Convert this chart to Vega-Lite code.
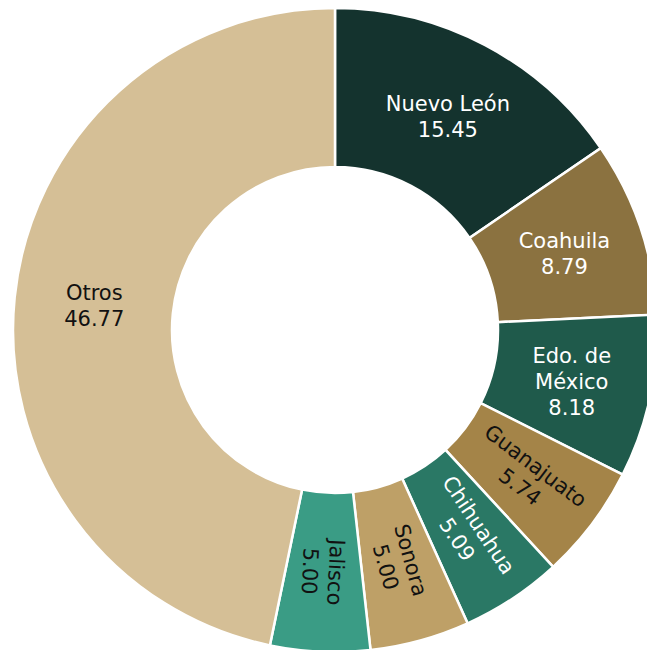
{
  "$schema": "https://vega.github.io/schema/vega-lite/v6.json",
  "width": 670,
  "height": 660,
  "padding": 0,
  "autosize": "none",
  "background": "white",
  "view": {"stroke": null},
  "data": {
    "values": [
      {"i": 0, "estado": "Nuevo León", "label": "Nuevo León", "valor": 15.45},
      {"i": 1, "estado": "Coahuila", "label": "Coahuila", "valor": 8.79},
      {"i": 2, "estado": "Edo. de México", "label": "Edo. de\nMéxico", "valor": 8.18},
      {"i": 3, "estado": "Guanajuato", "label": "Guanajuato", "valor": 5.74},
      {"i": 4, "estado": "Chihuahua", "label": "Chihuahua", "valor": 5.09},
      {"i": 5, "estado": "Sonora", "label": "Sonora", "valor": 5.00},
      {"i": 6, "estado": "Jalisco", "label": "Jalisco", "valor": 5.00},
      {"i": 7, "estado": "Otros", "label": "Otros", "valor": 46.77}
    ]
  },
  "transform": [
    {"joinaggregate": [{"op": "sum", "field": "valor", "as": "total"}]},
    {"window": [{"op": "sum", "field": "valor", "as": "acum"}], "sort": [{"field": "i", "order": "ascending"}], "frame": [null, 0]},
    {"calculate": "datum.acum - datum.valor / 2", "as": "mitad"},
    {"calculate": "datum.valor < 6 ? datum.mitad / datum.total * 360 - 90 : 0", "as": "giro"},
    {"calculate": "datum.label + '\\n' + format(datum.valor, '.2f')", "as": "texto"}
  ],
  "layer": [
    {
      "mark": {"type": "arc", "outerRadius": 322, "innerRadius": 163, "stroke": "white", "strokeWidth": 2.5},
      "encoding": {
        "theta": {"field": "valor", "type": "quantitative", "stack": true},
        "order": {"field": "i", "type": "quantitative"},
        "color": {
          "field": "estado",
          "type": "nominal",
          "legend": null,
          "scale": {
            "domain": ["Nuevo León", "Coahuila", "Edo. de México", "Guanajuato", "Chihuahua", "Sonora", "Jalisco", "Otros"],
            "range": ["#14332E", "#8B7240", "#1F5A4B", "#A48448", "#2A7865", "#BEA067", "#3A9C85", "#D5BF96"]
          }
        }
      }
    },
    {
      "transform": [{"filter": "datum.estado !== 'Edo. de México'"}],
      "mark": {"type": "text", "radius": 242, "dy": -11, "font": "DejaVu Sans", "fontSize": 21, "lineHeight": 26, "lineBreak": "\n", "align": "center", "baseline": "middle"},
      "encoding": {
        "theta": {"field": "mitad", "type": "quantitative", "stack": null},
        "text": {"field": "texto", "type": "nominal"},
        "angle": {"field": "giro", "type": "quantitative", "scale": null},
        "color": {
          "condition": {"test": "indexof(['Nuevo León', 'Coahuila', 'Chihuahua'], datum.estado) >= 0", "value": "white"},
          "value": "#111111"
        }
      }
    },
    {
      "transform": [{"filter": "datum.estado === 'Edo. de México'"}],
      "mark": {"type": "text", "radius": 242, "dy": -23, "font": "DejaVu Sans", "fontSize": 21, "lineHeight": 26, "lineBreak": "\n", "align": "center", "baseline": "middle", "color": "white"},
      "encoding": {
        "theta": {"field": "mitad", "type": "quantitative", "stack": null},
        "text": {"field": "texto", "type": "nominal"}
      }
    }
  ]
}
